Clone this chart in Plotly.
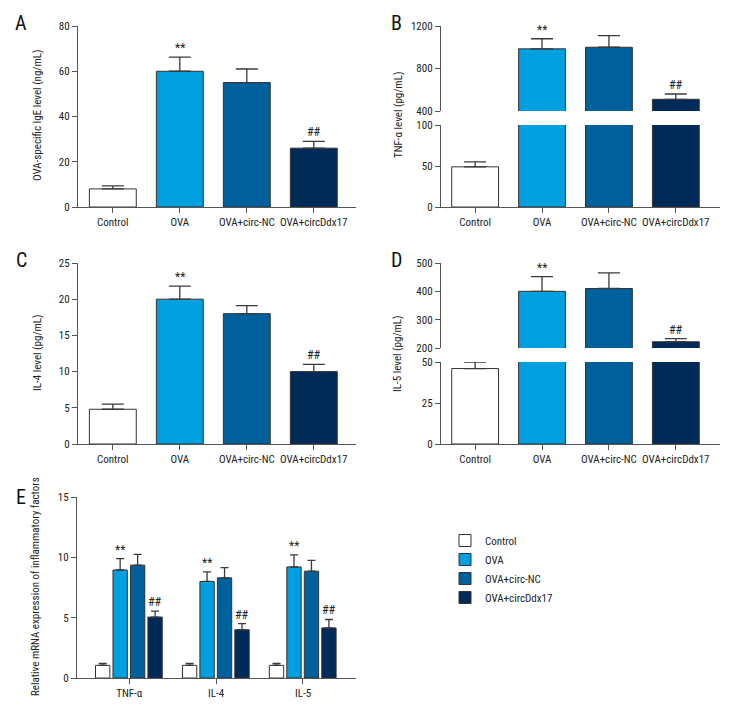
import plotly.graph_objects as go

W, H = 732, 708
FONT = "Roboto Condensed, Liberation Sans Narrow, Roboto, sans-serif"

groups = ["Control", "OVA", "OVA+circ-NC", "OVA+circDdx17"]
colors = ["#ffffff", "#009fe0", "#00609c", "#002a57"]

# Panel A: OVA-specific IgE (ng/mL)
ige_mean = [8.0, 60.0, 55.0, 26.0]
ige_err = [1.3, 6.2, 6.0, 3.0]
ige_sig = ["", "**", "", "##"]

# Panel B: TNF-α (pg/mL)
tnf_mean = [49.0, 985.0, 1000.0, 510.0]
tnf_err = [6.0, 95.0, 110.0, 50.0]
tnf_sig = ["", "**", "", "##"]

# Panel C: IL-4 (pg/mL)
il4_mean = [4.8, 20.0, 18.0, 10.0]
il4_err = [0.7, 1.8, 1.1, 1.0]
il4_sig = ["", "**", "", "##"]

# Panel D: IL-5 (pg/mL)
il5_mean = [46.0, 400.0, 410.0, 222.0]
il5_err = [4.0, 52.0, 55.0, 11.0]
il5_sig = ["", "**", "", "##"]

# Panel E: relative mRNA expression
genes = ["TNF-α", "IL-4", "IL-5"]
mrna_mean = {
    "Control": [1.05, 1.05, 1.05],
    "OVA": [8.95, 8.0, 9.2],
    "OVA+circ-NC": [9.35, 8.3, 8.85],
    "OVA+circDdx17": [5.05, 4.0, 4.15],
}
mrna_err = {
    "Control": [0.15, 0.15, 0.15],
    "OVA": [0.95, 0.8, 1.0],
    "OVA+circ-NC": [0.9, 0.85, 0.9],
    "OVA+circDdx17": [0.5, 0.5, 0.7],
}
mrna_sig = {"Control": "", "OVA": "**", "OVA+circ-NC": "", "OVA+circDdx17": "##"}


def px_x(a, b):
    return [a / W, b / W]


def px_y(top, bottom):
    return [1 - bottom / H, 1 - top / H]


AXCOL = "#555555"
ERRCOL = "#3a3a3a"
TICKFONT = dict(family=FONT, size=11, color="#222")

fig = go.Figure()
layout = {}
annotations = []


def yaxis_style(domain, rng, ticks, anchor, showline=True):
    return dict(domain=domain, range=rng, tickvals=ticks, anchor=anchor,
                automargin=False,
                showline=showline, linecolor=AXCOL, linewidth=1.3,
                ticks="outside", ticklen=5, tickwidth=1.3, tickcolor=AXCOL,
                showgrid=False, zeroline=False, tickfont=TICKFONT)


def xaxis_style(domain, rng, anchor, visible=True, cats=None):
    d = dict(domain=domain, range=rng, anchor=anchor, showgrid=False,
             automargin=False, zeroline=False, visible=visible)
    if visible:
        d.update(showline=True, linecolor=AXCOL, linewidth=1.3,
                 ticks="outside", ticklen=5, tickwidth=1.3, tickcolor=AXCOL,
                 tickangle=0, tickfont=TICKFONT)
        if cats is not None:
            d.update(tickmode="array", tickvals=list(range(len(cats))), ticktext=cats)
    return d


def bar_trace(mean, err, xa, ya):
    return go.Bar(
        x=list(range(len(groups))), y=mean, width=0.7,
        marker=dict(color=colors, line=dict(color="#333333", width=1)),
        error_y=dict(type="data", array=err, arrayminus=[0] * len(err), symmetric=False,
                     color=ERRCOL, thickness=1.3, width=11),
        xaxis=xa, yaxis=ya, showlegend=False, hoverinfo="skip")


def sig_annots(mean, err, sig, xref, yref, xs=None):
    for i, s in enumerate(sig):
        if s:
            annotations.append(dict(
                x=(xs[i] if xs else i), y=mean[i] + err[i], xref=xref, yref=yref,
                text=s, showarrow=False, yanchor="bottom", yshift=0,
                font=dict(family=FONT, size=12, color="#222")))


XR_LEFT = [-0.52, 3.63]
XR_RIGHT = [-0.51, 3.66]

# ---- Panel A ----
fig.add_trace(bar_trace(ige_mean, ige_err, "x", "y"))
layout["xaxis"] = xaxis_style(px_x(70, 348), XR_LEFT, "y", cats=groups)
layout["yaxis"] = yaxis_style(px_y(18, 199), [0, 80], [0, 20, 40, 60, 80], "x")
sig_annots(ige_mean, ige_err, ige_sig, "x", "y")

# ---- Panel B (broken axis) ----
fig.add_trace(bar_trace(tnf_mean, tnf_err, "x2", "y2"))
fig.add_trace(bar_trace(tnf_mean, tnf_err, "x3", "y3"))
layout["xaxis2"] = xaxis_style(px_x(433, 712), XR_RIGHT, "y2", cats=groups)
layout["yaxis2"] = yaxis_style(px_y(117, 199), [0, 100], [0, 50, 100], "x2")
layout["xaxis3"] = xaxis_style(px_x(433, 712), XR_RIGHT, "y3", visible=False)
layout["yaxis3"] = yaxis_style(px_y(18, 103), [400, 1200], [400, 800, 1200], "x3")
sig_annots(tnf_mean, tnf_err, tnf_sig, "x3", "y3")

# ---- Panel C ----
fig.add_trace(bar_trace(il4_mean, il4_err, "x4", "y4"))
layout["xaxis4"] = xaxis_style(px_x(70, 348), XR_LEFT, "y4", cats=groups)
layout["yaxis4"] = yaxis_style(px_y(255, 436), [0, 25], [0, 5, 10, 15, 20, 25], "x4")
sig_annots(il4_mean, il4_err, il4_sig, "x4", "y4")

# ---- Panel D (broken axis) ----
fig.add_trace(bar_trace(il5_mean, il5_err, "x5", "y5"))
fig.add_trace(bar_trace(il5_mean, il5_err, "x6", "y6"))
layout["xaxis5"] = xaxis_style(px_x(433, 712), XR_RIGHT, "y5", cats=groups)
layout["yaxis5"] = yaxis_style(px_y(354, 436), [0, 50], [0, 25, 50], "x5")
layout["xaxis6"] = xaxis_style(px_x(433, 712), XR_RIGHT, "y6", visible=False)
layout["yaxis6"] = yaxis_style(px_y(255, 340), [200, 500], [200, 300, 400, 500], "x6")
sig_annots(il5_mean, il5_err, il5_sig, "x6", "y6")

# ---- Panel E ----
bw = 0.165
step = 0.201
for k, g in enumerate(groups):
    off = -0.387 + k * step
    fig.add_trace(go.Bar(
        x=list(range(len(genes))), y=mrna_mean[g], name=g,
        width=bw, offset=off,
        marker=dict(color=colors[k], line=dict(color="#333333", width=1)),
        error_y=dict(type="data", array=mrna_err[g], arrayminus=[0] * len(genes),
                     symmetric=False, color=ERRCOL, thickness=1.3, width=4),
        xaxis="x7", yaxis="y7", showlegend=True, hoverinfo="skip"))
    if mrna_sig[g]:
        xs = [i + off + bw / 2 for i in range(len(genes))]
        sig_annots(mrna_mean[g], mrna_err[g], [mrna_sig[g]] * len(genes), "x7", "y7", xs=xs)

layout["xaxis7"] = xaxis_style(px_x(69, 348), [-0.6, 2.61], "y7", cats=genes)
layout["yaxis7"] = yaxis_style(px_y(489, 670), [0, 15], [0, 5, 10, 15], "x7")

# axis titles and panel letters
titles = [
    ("OVA-specific IgE level (ng/mL)", 29, 108),
    ("TNF-α level (pg/mL)", 391, 107),
    ("IL-4 level (pg/mL)", 29, 345),
    ("IL-5 level (pg/mL)", 389, 346),
    ("Relative mRNA expression of inflammatory factors", 27, 579),
]
for t, xp, yp in titles:
    annotations.append(dict(text=t, x=xp / W, y=1 - yp / H, xref="paper", yref="paper",
                            textangle=-90, showarrow=False, xanchor="center", yanchor="middle",
                            font=dict(family=FONT, size=11, color="#222")))
letters = [("A", 13, 15), ("B", 388, 15), ("C", 13, 252), ("D", 388, 252), ("E", 13, 489)]
for t, xp, yp in letters:
    annotations.append(dict(text=t, x=xp / W, y=1 - yp / H, xref="paper", yref="paper",
                            showarrow=False, xanchor="center", yanchor="middle",
                            font=dict(family=FONT, size=20, color="#111")))

fig.update_layout(
    width=W, height=H, margin=dict(l=0, r=0, t=0, b=0),
    paper_bgcolor="white", plot_bgcolor="white",
    barmode="overlay",
    annotations=annotations,
    legend=dict(x=437 / W, y=1 - 518 / H, xanchor="left", yanchor="top",
                font=dict(family=FONT, size=11, color="#222"),
                itemwidth=30, tracegroupgap=0, bgcolor="rgba(0,0,0,0)"),
    **layout,
)

fig.write_html("out.html")
